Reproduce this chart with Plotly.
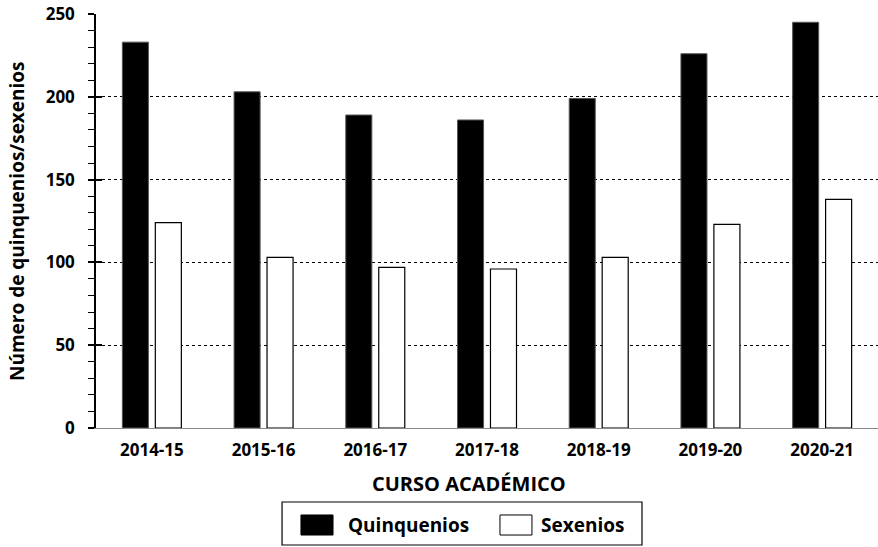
import plotly.graph_objects as go

# Academic years and counts per year
cursos = ["2014-15", "2015-16", "2016-17", "2017-18", "2018-19", "2019-20", "2020-21"]
quinquenios = [233, 203, 189, 186, 199, 226, 245]
sexenios = [124, 103, 97, 96, 103, 123, 138]

FONT = "Open Sans"

fig = go.Figure()
fig.add_trace(go.Bar(
    x=cursos, y=quinquenios, name="Quinquenios",
    marker=dict(color="black", line=dict(color="#555", width=1)),
))
fig.add_trace(go.Bar(
    x=cursos, y=sexenios, name="Sexenios",
    marker=dict(color="white", line=dict(color="black", width=1.2)),
))
# invisible trace that carries the inward half of the crossing y ticks
fig.add_trace(go.Scatter(x=cursos, y=[None] * len(cursos), yaxis="y2",
                         showlegend=False, hoverinfo="skip"))

yaxis_common = dict(
    range=[0, 250], dtick=50, showline=True, linecolor="black", linewidth=1.5,
    ticklen=6, tickwidth=1.5, tickcolor="black",
    minor=dict(dtick=10, ticklen=6, tickwidth=1.2, tickcolor="black", showgrid=False),
)

fig.update_layout(
    width=878, height=547,
    margin=dict(l=96, r=0, t=14, b=119),
    paper_bgcolor="white", plot_bgcolor="white",
    barmode="group", bargap=0.41, bargroupgap=0.21,
    showlegend=False,
    font=dict(family=FONT, color="black"),
    xaxis=dict(
        showline=True, linecolor="#888", linewidth=1.2,
        ticks="", showgrid=False,
        tickfont=dict(family=FONT, size=17, weight="bold"),
        ticklabelstandoff=6,
    ),
    yaxis=dict(
        **yaxis_common, ticks="outside",
        showgrid=True, gridcolor="black", gridwidth=1, griddash="dot",
        zeroline=False,
        tickfont=dict(family=FONT, size=17, weight="bold"),
        ticklabelstandoff=10,
    ),
    yaxis2=dict(
        **yaxis_common, ticks="inside", overlaying="y", side="left",
        showgrid=False, zeroline=False, showticklabels=False,
    ),
    annotations=[
        dict(text="Número de quinquenios/sexenios", x=-0.101, y=0.5,
             xref="paper", yref="paper", textangle=-90,
             showarrow=False, xanchor="center", yanchor="middle",
             font=dict(family=FONT, size=19, weight="bold")),
        dict(text="CURSO ACADÉMICO", x=0.477, y=-0.133, xref="paper", yref="paper",
             showarrow=False, xanchor="center", yanchor="middle",
             font=dict(family=FONT, size=20, weight="bold")),
        dict(text="Quinquenios", x=0.3197, y=-0.2343, xref="paper", yref="paper",
             showarrow=False, xanchor="left", yanchor="middle",
             font=dict(family=FONT, size=19, weight="bold")),
        dict(text="Sexenios", x=0.5665, y=-0.2343, xref="paper", yref="paper",
             showarrow=False, xanchor="left", yanchor="middle",
             font=dict(family=FONT, size=19, weight="bold")),
    ],
    shapes=[
        # legend frame
        dict(type="rect", xref="paper", yref="paper", x0=0.2379, x1=0.6982,
             y0=-0.2826, y1=-0.1787, line=dict(color="black", width=1.2),
             fillcolor="white"),
        # legend swatches
        dict(type="rect", xref="paper", yref="paper", x0=0.2621, x1=0.3031,
             y0=-0.2585, y1=-0.2101, line=dict(color="black", width=1),
             fillcolor="black"),
        dict(type="rect", xref="paper", yref="paper", x0=0.5166, x1=0.5575,
             y0=-0.2585, y1=-0.2101, line=dict(color="black", width=1),
             fillcolor="white"),
    ],
)

fig.write_html("out.html")
